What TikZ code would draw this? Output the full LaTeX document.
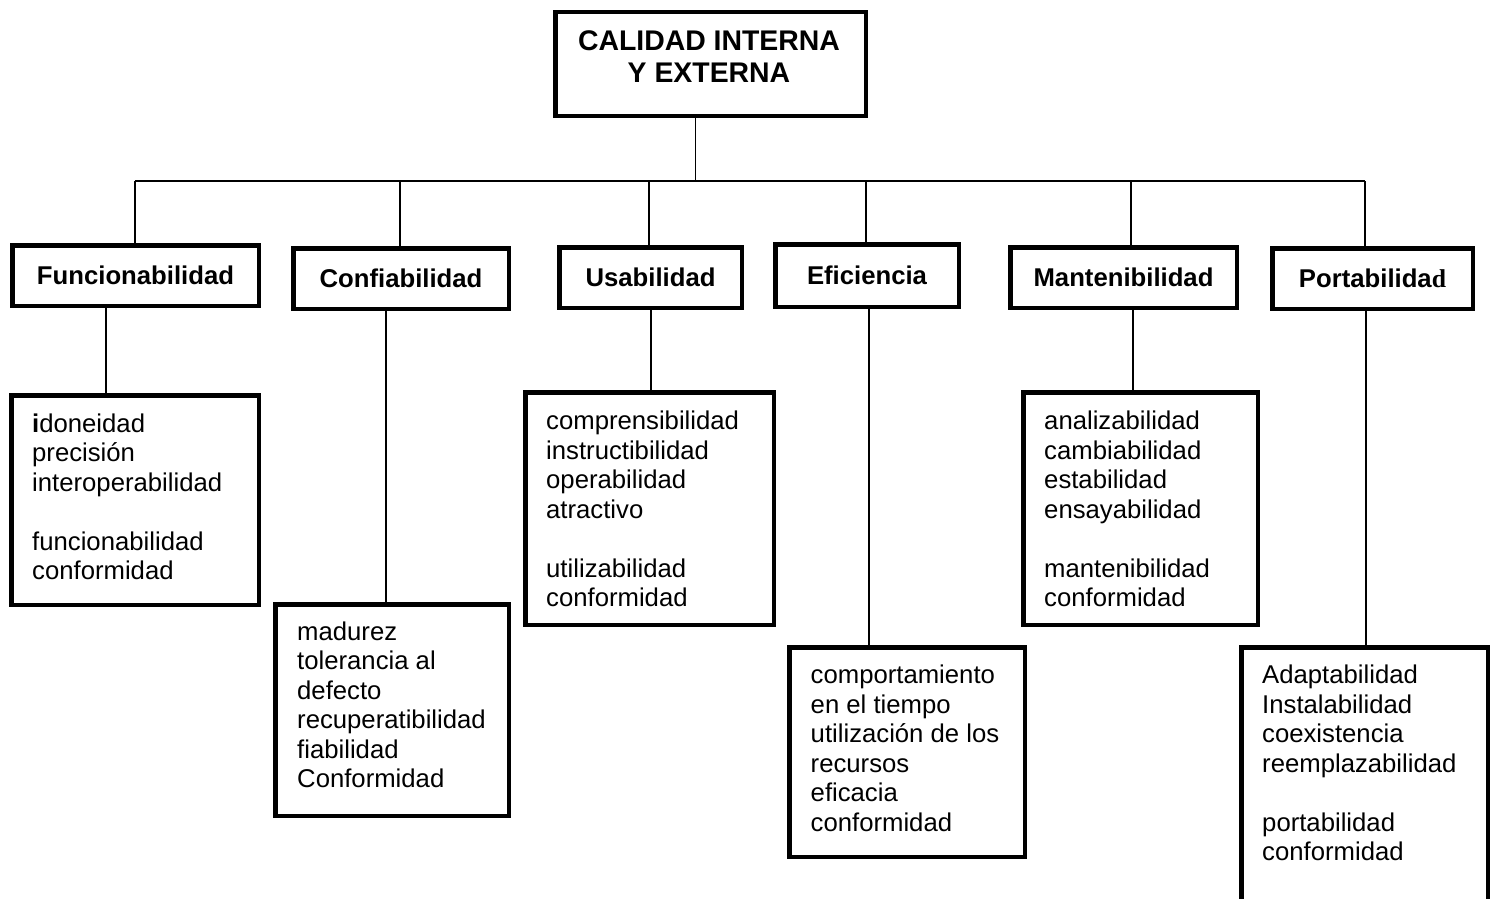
\documentclass[tikz,border=0pt]{standalone}
\usepackage{fontspec}
\setmainfont{Liberation Sans}
\newfontfamily\serifbold{Liberation Serif}
\begin{document}
\begin{tikzpicture}[x=1pt,y=-1pt,
  box/.style={draw=black,line width=4.5pt,inner sep=0pt,rectangle},
  head/.style={box,font=\fontsize{25.7}{29.5}\selectfont\bfseries},
  lst/.style={anchor=north west,inner sep=0pt,align=left,font=\fontsize{25.7}{29.5}\selectfont},
  conn/.style={draw=black,line width=1.5pt}]
\useasboundingbox (0,0) rectangle (1496,899);
\clip (0,0) rectangle (1496,899);

% top box
\node[box,minimum width=310.5pt,minimum height=103.5pt] (top) at (710.5,64) {};
\node[anchor=north,inner sep=0pt,align=center,font=\fontsize{28.4}{32.5}\selectfont\bfseries] (toptxt) at (709,30) {CALIDAD INTERNA\\Y EXTERNA};

% header boxes
\node[head,minimum width=246.5pt,minimum height=60.5pt] (hF) at (135.5,275.5) {Funcionabilidad};
\node[head,minimum width=215.5pt,minimum height=60.5pt] (hC) at (401,278.5) {Confiabilidad};
\node[head,minimum width=182.5pt,minimum height=60.5pt] (hU) at (650.5,277.5) {Usabilidad};
\node[head,minimum width=183.5pt,minimum height=62.5pt] (hE) at (867,275.5) {Eficiencia};
\node[head,minimum width=226.5pt,minimum height=60.5pt] (hM) at (1123.5,277.5) {Mantenibilidad};
\node[head,minimum width=200.5pt,minimum height=60.5pt] (hP) at (1372.5,278.5) {Portabilida{\serifbold d}};

% lower boxes
\node[box,minimum width=247.5pt,minimum height=209.5pt] (lF) at (135,500) {};
\node[box,minimum width=233.5pt,minimum height=211.5pt] (lC) at (392,710) {};
\node[box,minimum width=248.5pt,minimum height=232.5pt] (lU) at (649.5,508.5) {};
\node[box,minimum width=235.5pt,minimum height=209.5pt] (lE) at (907,752) {};
\node[box,minimum width=234.5pt,minimum height=232.5pt] (lM) at (1140.5,508.5) {};
\node[box,minimum width=246.5pt,minimum height=310.5pt] (lP) at (1364.5,802.5) {};

% lower texts
\node[lst] (tF) at (32,413.5) {\vphantom{d}\textbf{i}doneidad\\precisión\\interoperabilidad\\\mbox{}\\funcionabilidad\\conformidad};
\node[lst] (tC) at (297,621.5) {\vphantom{d}madurez\\tolerancia al\\defecto\\recuperatibilidad\\fiabilidad\\Conformidad};
\node[lst] (tU) at (546,411) {\vphantom{d}comprensibilidad\\instructibilidad\\operabilidad\\atractivo\\\mbox{}\\utilizabilidad\\conformidad};
\node[lst] (tE) at (810.5,664.8) {\vphantom{d}comportamiento\\en el tiempo\\utilización de los\\recursos\\eficacia\\conformidad};
\node[lst] (tM) at (1044,411) {\vphantom{d}analizabilidad\\cambiabilidad\\estabilidad\\ensayabilidad\\\mbox{}\\mantenibilidad\\conformidad};
\node[lst] (tP) at (1262,665) {\vphantom{d}Adaptabilidad\\Instalabilidad\\coexistencia\\reemplazabilidad\\\mbox{}\\portabilidad\\conformidad};

% connector coordinates
\coordinate (xT) at (695.5,0);
\coordinate (busL) at (135,181);
\coordinate (busR) at (1365,181);
\coordinate (dC) at (400,181);
\coordinate (dU) at (649,181);
\coordinate (dE) at (866,181);
\coordinate (dM) at (1131,181);
\coordinate (vF) at (106,0);
\coordinate (vC) at (386,0);
\coordinate (vU) at (651,0);
\coordinate (vE) at (869,0);
\coordinate (vM) at (1133,0);
\coordinate (vP) at (1366,0);

% top to bus
\draw[conn] (top.south -| xT) -- (xT |- busL);
\draw[conn] (busL) -- (busR);
% drops to headers
\draw[conn] (busL) -- (hF.north -| busL);
\draw[conn] (dC) -- (hC.north -| dC);
\draw[conn] (dU) -- (hU.north -| dU);
\draw[conn] (dE) -- (hE.north -| dE);
\draw[conn] (dM) -- (hM.north -| dM);
\draw[conn] (busR) -- (hP.north -| busR);
% headers to lower boxes
\draw[conn] (hF.south -| vF) -- (lF.north -| vF);
\draw[conn] (hC.south -| vC) -- (lC.north -| vC);
\draw[conn] (hU.south -| vU) -- (lU.north -| vU);
\draw[conn] (hE.south -| vE) -- (lE.north -| vE);
\draw[conn] (hM.south -| vM) -- (lM.north -| vM);
\draw[conn] (hP.south -| vP) -- (lP.north -| vP);
\end{tikzpicture}
\end{document}
